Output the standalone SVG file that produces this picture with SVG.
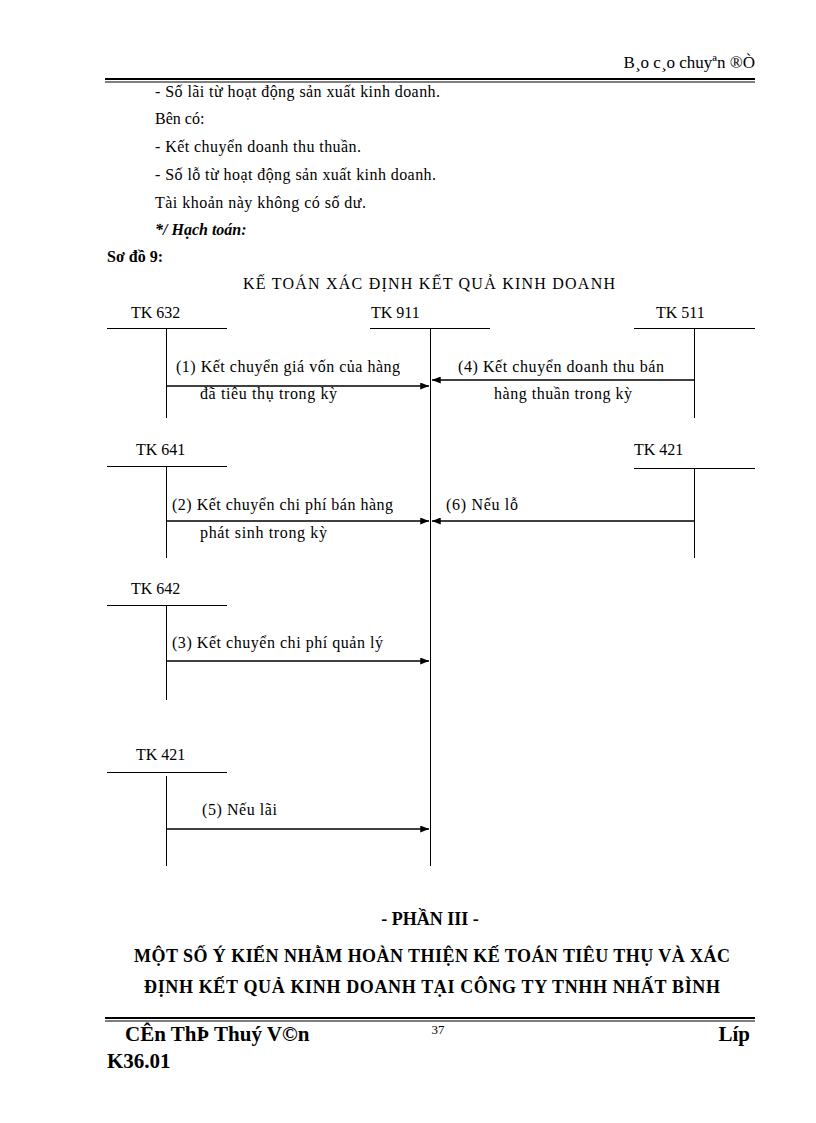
<svg xmlns="http://www.w3.org/2000/svg" width="816" height="1123" viewBox="0 0 816 1123">
<defs>
<style>
text{font-family:"Liberation Serif","Times New Roman",serif;fill:#000}
.t{font-size:16px}
.b{font-size:16px;font-weight:bold}
.h{font-size:18px;font-weight:bold}
.f{font-size:21px;font-weight:bold}
.ln{stroke:#000;stroke-width:1;fill:none}
.ax{stroke:#000;stroke-width:1.5;fill:none}
</style>
<marker id="ah" viewBox="0 0 10 8" refX="10" refY="4" markerWidth="9" markerHeight="7" markerUnits="userSpaceOnUse" orient="auto">
<path d="M0,0 L10,4 L0,8 Z" fill="#000"/>
</marker>
</defs>
<rect width="816" height="1123" fill="#fff"/>
<g id="header">
<text class="t" x="755" y="68" text-anchor="end" style="font-size:17px">B¸o c¸o chuyªn ®Ò</text>
<rect x="105" y="78" width="650" height="2" fill="#000"/>
<rect x="105" y="81.5" width="650" height="1" fill="#000"/>
</g>
<g id="intro">
<text class="t" x="155" y="97" textLength="285">- Số lãi từ hoạt động sản xuất kinh doanh.</text>
<text class="t" x="155" y="124">Bên có:</text>
<text class="t" x="155" y="152" textLength="206">- Kết chuyển doanh thu thuần.</text>
<text class="t" x="155" y="180" textLength="281">- Số lỗ từ hoạt động sản xuất kinh doanh.</text>
<text class="t" x="155" y="208" textLength="211">Tài khoản này không có số dư.</text>
<text class="b" x="155" y="235" font-style="italic">*/ Hạch toán:</text>
<text class="b" x="107" y="262">Sơ đồ 9:</text>
<text class="t" x="429" y="289" text-anchor="middle" textLength="372">KẾ TOÁN XÁC ĐỊNH KẾT QUẢ KINH DOANH</text>
</g>
<g id="tk632">
<text class="t" x="131" y="318">TK 632</text>
<line class="ln" x1="107" y1="328.5" x2="227" y2="328.5"/>
<line class="ln" x1="166.5" y1="329" x2="166.5" y2="418"/>
</g>
<g id="tk911">
<text class="t" x="371" y="318">TK 911</text>
<line class="ln" x1="370" y1="328.5" x2="490" y2="328.5"/>
<line class="ln" x1="430.5" y1="329" x2="430.5" y2="866"/>
</g>
<g id="tk511">
<text class="t" x="656" y="318">TK 511</text>
<line class="ln" x1="634" y1="328.5" x2="755" y2="328.5"/>
<line class="ln" x1="694.5" y1="329" x2="694.5" y2="418"/>
</g>
<g id="tk641">
<text class="t" x="136" y="455">TK 641</text>
<line class="ln" x1="107" y1="466.5" x2="227" y2="466.5"/>
<line class="ln" x1="166.5" y1="467" x2="166.5" y2="558"/>
</g>
<g id="tk421r">
<text class="t" x="634" y="455">TK 421</text>
<line class="ln" x1="634" y1="468.5" x2="755" y2="468.5"/>
<line class="ln" x1="694.5" y1="469" x2="694.5" y2="558"/>
</g>
<g id="tk642">
<text class="t" x="131" y="594">TK 642</text>
<line class="ln" x1="107" y1="605.5" x2="227" y2="605.5"/>
<line class="ln" x1="166.5" y1="606" x2="166.5" y2="700"/>
</g>
<g id="tk421l">
<text class="t" x="136" y="760">TK 421</text>
<line class="ln" x1="107" y1="772.5" x2="227" y2="772.5"/>
<line class="ln" x1="166.5" y1="776" x2="166.5" y2="866"/>
</g>
<g id="connectors">
<line class="ax" x1="166.5" y1="386" x2="429" y2="386" marker-end="url(#ah)"/>
<line class="ax" x1="694.5" y1="380" x2="432" y2="380" marker-end="url(#ah)"/>
<line class="ax" x1="166.5" y1="521" x2="429" y2="521" marker-end="url(#ah)"/>
<line class="ax" x1="694.5" y1="521" x2="432" y2="521" marker-end="url(#ah)"/>
<line class="ax" x1="166.5" y1="661" x2="429" y2="661" marker-end="url(#ah)"/>
<line class="ax" x1="166.5" y1="829" x2="429" y2="829" marker-end="url(#ah)"/>
</g>
<g id="labels">
<text class="t" x="176" y="372" textLength="224">(1) Kết chuyển giá vốn của hàng</text>
<text class="t" x="200" y="399" textLength="137">đã tiêu thụ trong kỳ</text>
<text class="t" x="458" y="372" textLength="206">(4) Kết chuyển doanh thu bán</text>
<text class="t" x="494" y="399" textLength="138">hàng thuần trong kỳ</text>
<text class="t" x="172" y="510" textLength="221">(2) Kết chuyển chi phí bán hàng</text>
<text class="t" x="200" y="538" textLength="127">phát sinh trong kỳ</text>
<text class="t" x="446" y="510" textLength="72">(6) Nếu lỗ</text>
<text class="t" x="172" y="648" textLength="211">(3) Kết chuyển chi phí quản lý</text>
<text class="t" x="202" y="815" textLength="75">(5) Nếu lãi</text>
</g>
<g id="part3">
<text class="h" x="430" y="925" text-anchor="middle">- PHẦN III -</text>
<text class="h" x="432" y="962" text-anchor="middle" textLength="596">MỘT SỐ Ý KIẾN NHẰM HOÀN THIỆN KẾ TOÁN TIÊU THỤ VÀ XÁC</text>
<text class="h" x="432" y="993" text-anchor="middle" textLength="576">ĐỊNH KẾT QUẢ KINH DOANH TẠI CÔNG TY TNHH NHẤT BÌNH</text>
</g>
<g id="footer">
<rect x="105" y="1017" width="650" height="2" fill="#000"/>
<rect x="105" y="1020.5" width="650" height="1" fill="#000"/>
<text class="f" x="125" y="1041">CÊn ThÞ Thuý V©n</text>
<text class="t" x="438" y="1034" text-anchor="middle" style="font-size:13px">37</text>
<text class="f" x="750" y="1041" text-anchor="end">Líp</text>
<text class="f" x="107" y="1068">K36.01</text>
</g>
</svg>
